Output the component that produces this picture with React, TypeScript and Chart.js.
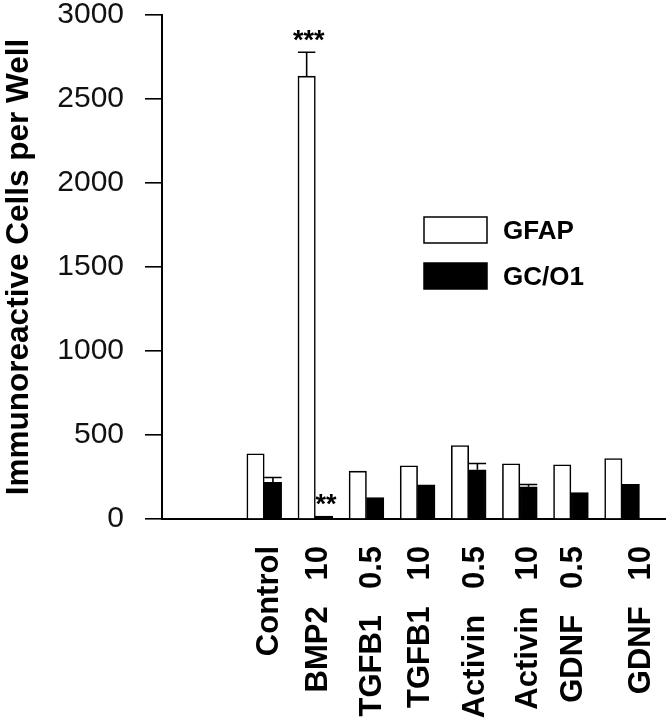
import React, { useEffect, useRef } from 'react';
import { Chart, registerables } from 'chart.js';

Chart.register(...registerables);

const categories = ['Control', 'BMP2   10', 'TGFB1   0.5', 'TGFB1   10', 'Activin   0.5', 'Activin   10', 'GDNF   0.5', 'GDNF   10'];
const seriesNames = ['GFAP', 'GC/O1'];
const gfapValues = [388, 2636, 285, 317, 437, 329, 323, 360];
const gfapErrors = [0, 142, 0, 0, 0, 0, 0, 0];
const gcValues = [219, 17, 128, 204, 293, 192, 158, 207];
const gcErrors = [28, 0, 0, 0, 37, 13, 0, 0];
const yTickValues = [0, 500, 1000, 1500, 2000, 2500, 3000];
const significance = [
  { index: 1, dataset: 0, text: '***' },
  { index: 1, dataset: 1, text: '**' },
];

// layout only: small horizontal nudges (px) of the rotated category labels, as in the original figure
const labelNudgePx = [3, 1, 3.5, 1, 5, 6.5, 1, 17];

const FONT = 'Liberation Sans, Arial, Helvetica, sans-serif';
const errorsBySeries = [gfapErrors, gcErrors];
const X_MIN = -2;
const X_MAX = 7.84;

const annotationPlugin = {
  id: 'annotations',
  afterDatasetsDraw(chart: any) {
    const ctx = chart.ctx;
    const yScale = chart.scales.y;
    ctx.save();
    ctx.strokeStyle = '#000';
    ctx.lineWidth = 1.6;
    // error bars
    chart.data.datasets.forEach((ds: any, di: number) => {
      const meta = chart.getDatasetMeta(di);
      meta.data.forEach((bar: any, i: number) => {
        const err = errorsBySeries[di][i];
        if (!err) return;
        const v = ds.data[i].y;
        const top = yScale.getPixelForValue(v);
        const et = yScale.getPixelForValue(v + err);
        const half = bar.width / 2;
        ctx.beginPath();
        ctx.moveTo(bar.x, top);
        ctx.lineTo(bar.x, et);
        ctx.moveTo(bar.x - half, et);
        ctx.lineTo(bar.x + half, et);
        ctx.stroke();
      });
    });
    // significance marks
    ctx.fillStyle = '#000';
    ctx.font = `bold 27px ${FONT}`;
    ctx.textAlign = 'center';
    ctx.textBaseline = 'alphabetic';
    significance.forEach((s) => {
      const bar = chart.getDatasetMeta(s.dataset).data[s.index] as any;
      const v = chart.data.datasets[s.dataset].data[s.index].y + errorsBySeries[s.dataset][s.index];
      const y = yScale.getPixelForValue(v);
      ctx.fillText(s.text, bar.x + 2, y - 3);
    });
    // legend
    const { left, top } = chart.chartArea;
    const bx = left + 262;
    const by = top + 202;
    const bw = 63;
    const bh = 26;
    const gap = 46;
    ctx.font = `bold 26px ${FONT}`;
    ctx.textAlign = 'left';
    ctx.textBaseline = 'middle';
    chart.data.datasets.forEach((ds: any, di: number) => {
      const y = by + di * gap;
      ctx.fillStyle = ds.backgroundColor;
      ctx.fillRect(bx, y, bw, bh);
      ctx.lineWidth = 1.5;
      ctx.strokeStyle = '#000';
      ctx.strokeRect(bx, y, bw, bh);
      ctx.fillStyle = '#000';
      ctx.fillText(ds.label, bx + bw + 16, y + bh / 2 + 2);
    });
    ctx.restore();
  },
};

export default function App() {
  const ref = useRef<HTMLCanvasElement>(null);

  useEffect(() => {
    if (!ref.current) return;
    const chart = new Chart(ref.current, {
      type: 'bar',
      data: {
        datasets: [
          {
            label: seriesNames[0],
            data: gfapValues.map((v, i) => ({ x: i, y: v })),
            backgroundColor: '#ffffff',
            borderColor: '#000000',
            borderWidth: 1.6,
          },
          {
            label: seriesNames[1],
            data: gcValues.map((v, i) => ({ x: i, y: v })),
            backgroundColor: '#000000',
            borderColor: '#000000',
            borderWidth: 1.6,
          },
        ],
      } as any,
      options: {
        animation: false,
        responsive: false,
        devicePixelRatio: 1,
        layout: { padding: { top: 15, right: 6, left: 0, bottom: 0 } },
        datasets: { bar: { barThickness: 17.4 } },
        plugins: { legend: { display: false }, tooltip: { enabled: false } },
        scales: {
          x: {
            type: 'linear',
            offset: false,
            min: X_MIN,
            max: X_MAX,
            afterBuildTicks: (s: any) => {
              const pxPerUnit = (s.right - s.left) / (X_MAX - X_MIN) || 51.1;
              s.ticks = categories.map((_, i) => ({ value: i + labelNudgePx[i] / pxPerUnit }));
            },
            afterFit: (s: any) => {
              s.height = 201;
              s.paddingLeft = 0;
              s.paddingRight = 0;
              s.paddingTop = 0;
              s.paddingBottom = 0;
            },
            ticks: {
              autoSkip: false,
              minRotation: 90,
              maxRotation: 90,
              padding: 19,
              labelOffset: 2,
              color: '#000',
              font: { family: FONT, size: 31, weight: 'bold' },
              callback: (_v: any, idx: number) => categories[idx] ?? '',
            },
            grid: { display: false, offset: false },
            border: { display: true, color: '#000', width: 2 },
          },
          y: {
            min: 0,
            max: 3000,
            afterBuildTicks: (s: any) => {
              s.ticks = yTickValues.map((v) => ({ value: v }));
            },
            afterFit: (s: any) => {
              s.width = 162;
              s.paddingLeft = 0;
              s.paddingRight = 0;
              s.paddingTop = 0;
              s.paddingBottom = 0;
            },
            ticks: {
              padding: 21,
              color: '#111',
              font: { family: FONT, size: 30 },
              callback: (v: any) => String(v),
            },
            grid: {
              drawOnChartArea: false,
              drawTicks: true,
              tickLength: 17,
              color: '#000',
              lineWidth: 1.6,
            },
            border: { display: true, color: '#000', width: 2 },
            title: {
              display: true,
              text: 'Immunoreactive Cells per Well',
              color: '#000',
              font: { family: FONT, size: 31.5, weight: 'bold' },
              padding: { top: 0, bottom: 0 },
            },
          },
        },
      } as any,
      plugins: [annotationPlugin],
    });
    return () => chart.destroy();
  }, []);

  return (
    <div style={{ position: 'fixed', left: 0, top: 0, width: 671, height: 720, background: '#fff' }}>
      <canvas ref={ref} width={671} height={720} style={{ display: 'block', width: 671, height: 720 }} />
    </div>
  );
}
